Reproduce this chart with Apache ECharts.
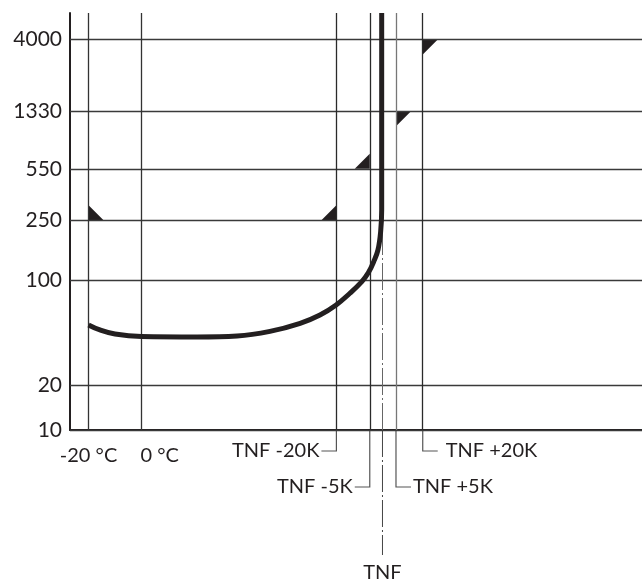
<!DOCTYPE html>
<html>
<head>
<meta charset="utf-8">
<script src="https://cdn.jsdelivr.net/npm/echarts@6/dist/echarts.min.js"></script>
<style>
html,body{margin:0;padding:0;background:#fff;}
#chart{width:642px;height:583px;}
</style>
</head>
<body>
<div id="chart"></div>
<script>
// ---- data ----
// y tick labels (log scale)
const yTicks = [10, 20, 100, 250, 550, 1330, 4000];
// vertical reference lines: temperature position (°C, schematic) and label
const lineTemps  = [-20, 0, 73.6, 86.2, 91, 96.1, 106.2];
const lineLabels = ['-20 °C', '0 °C', 'TNF -20K', 'TNF -5K', 'TNF', 'TNF +5K', 'TNF +20K'];
// thick curve
const curveT = [-20, -15.7, -10, 0, 21, 36.1, 48.5, 59.9, 67.4, 73.5, 78.7, 83.2, 85.7, 87.8, 89.3, 90.3, 90.7, 90.7];
const curveV = [50.1, 46.4, 43.6, 42.0, 41.7, 42.3, 45.4, 51.4, 58.4, 68.1, 81.5, 97.5, 111.9, 133.9, 158.5, 208.9, 293, 6000];
// triangle markers
const markerT = [-20, 73.6, 86.2, 96.1, 106.2];
const markerV = [250, 250, 550, 1330, 4000];

// ---- styling / layout (not data) ----
const INK = '#231f20';
const FONT = 'Lato';
const FS_Y = 21;
const FS = 20;
// triangle orientation: [dx sign, dy sign] of the two legs from the right-angle corner
const markerDir = [[1, -1], [-1, -1], [-1, -1], [1, 1], [1, 1]];
const lineStyles = [
  {color: '#333', width: 1.3},
  {color: '#333', width: 1.3},
  {color: '#2a2a2a', width: 1.3},
  {color: '#2a2a2a', width: 1.3},
  {color: '#666', width: 1, type: [27, 3, 2, 3]},
  {color: '#777', width: 1.3},
  {color: '#2a2a2a', width: 1.3}
];
// bottom label layout: kind, drop length, leader length, text gap
const labelLayout = [
  {kind: 'plain', dy: 26, dx: 0, align: 'center'},
  {kind: 'plain', dy: 26, dx: -1, align: 'left'},
  {kind: 'leader', drop: 21, len: -15, gap: -2},
  {kind: 'leader', drop: 57, len: -15, gap: -2},
  {kind: 'tnf', drop: 125, textDy: 143},
  {kind: 'leader', drop: 57, len: 15, gap: 2},
  {kind: 'leader', drop: 21, len: 15, gap: 8}
];

const chart = echarts.init(document.getElementById('chart'));

const curveData = curveT.map((t, i) => [t, curveV[i]]);
const markerData = markerT.map((t, i) => [t, markerV[i], i]);
const labelData = lineTemps.map((t, i) => [t, 10, i]);

const option = {
  animation: false,
  backgroundColor: '#fff',
  grid: {left: 70, right: 0, top: 13, bottom: 153},
  xAxis: {
    type: 'value', min: -27, max: 189,
    axisLine: {show: true, onZero: false, lineStyle: {color: INK, width: 2}},
    axisTick: {show: false}, axisLabel: {show: false}, splitLine: {show: false}
  },
  yAxis: {
    type: 'log', min: 10, max: 6000, logBase: 10,
    axisLine: {show: true, onZero: false, lineStyle: {color: INK, width: 2}},
    axisTick: {show: false}, axisLabel: {show: false}, splitLine: {show: false}
  },
  series: [
    {
      // grid lines and y labels
      type: 'line', data: [], silent: true,
      markLine: {
        silent: true, symbol: 'none', animation: false,
        lineStyle: {color: '#3a3a3a', width: 1.4, type: 'solid'},
        label: {show: true, position: 'start', distance: 8, color: INK,
                fontFamily: FONT, fontSize: FS_Y, formatter: p => String(p.value)},
        emphasis: {disabled: true},
        data: yTicks.map(v => ({yAxis: v}))
      }
    },
    {
      // vertical reference lines
      type: 'line', data: [], silent: true,
      markLine: {
        silent: true, symbol: 'none', animation: false,
        label: {show: false},
        emphasis: {disabled: true},
        data: lineTemps.map((t, i) => ({xAxis: t, lineStyle: Object.assign({type: 'solid'}, lineStyles[i])}))
      }
    },
    {
      // triangle markers
      type: 'custom', silent: true, data: markerData,
      renderItem: function (params, api) {
        const p = api.coord([api.value(0), api.value(1)]);
        const d = markerDir[api.value(2)];
        const s = 15;
        return {
          type: 'polygon',
          shape: {points: [[p[0], p[1]], [p[0] + d[0] * s, p[1]], [p[0], p[1] + d[1] * s]]},
          style: {fill: INK}
        };
      }
    },
    {
      // thick curve
      type: 'line', data: curveData, smooth: 0.4, showSymbol: false, silent: true,
      lineStyle: {color: INK, width: 5, cap: 'butt', join: 'round'},
      z: 5
    },
    {
      // bottom labels with leaders
      type: 'custom', silent: true, clip: false, data: labelData,
      renderItem: function (params, api) {
        const i = api.value(2);
        const p = api.coord([api.value(0), 10]);
        const L = labelLayout[i];
        const text = lineLabels[i];
        const ts = {fill: INK, fontFamily: FONT, fontSize: FS, verticalAlign: 'middle'};
        const children = [];
        if (L.kind === 'plain') {
          children.push({type: 'text', style: Object.assign({text, x: p[0] + L.dx, y: p[1] + L.dy, align: L.align}, ts)});
        } else if (L.kind === 'leader') {
          const yb = p[1] + L.drop;
          children.push({type: 'polyline', shape: {points: [[p[0], p[1]], [p[0], yb], [p[0] + L.len, yb]]},
                         style: {stroke: '#555', lineWidth: 1.2, fill: null}});
          children.push({type: 'text', style: Object.assign({text, x: p[0] + L.len + L.gap, y: yb,
                         align: L.len < 0 ? 'right' : 'left'}, ts)});
        } else {
          children.push({type: 'line', shape: {x1: p[0], y1: p[1], x2: p[0], y2: p[1] + L.drop},
                         style: {stroke: '#444', lineWidth: 1, lineDash: [27, 3, 2, 3]}});
          children.push({type: 'text', style: Object.assign({text, x: p[0], y: p[1] + L.textDy, align: 'center'}, ts)});
        }
        return {type: 'group', children};
      }
    }
  ]
};
chart.setOption(option);
</script>
</body>
</html>
